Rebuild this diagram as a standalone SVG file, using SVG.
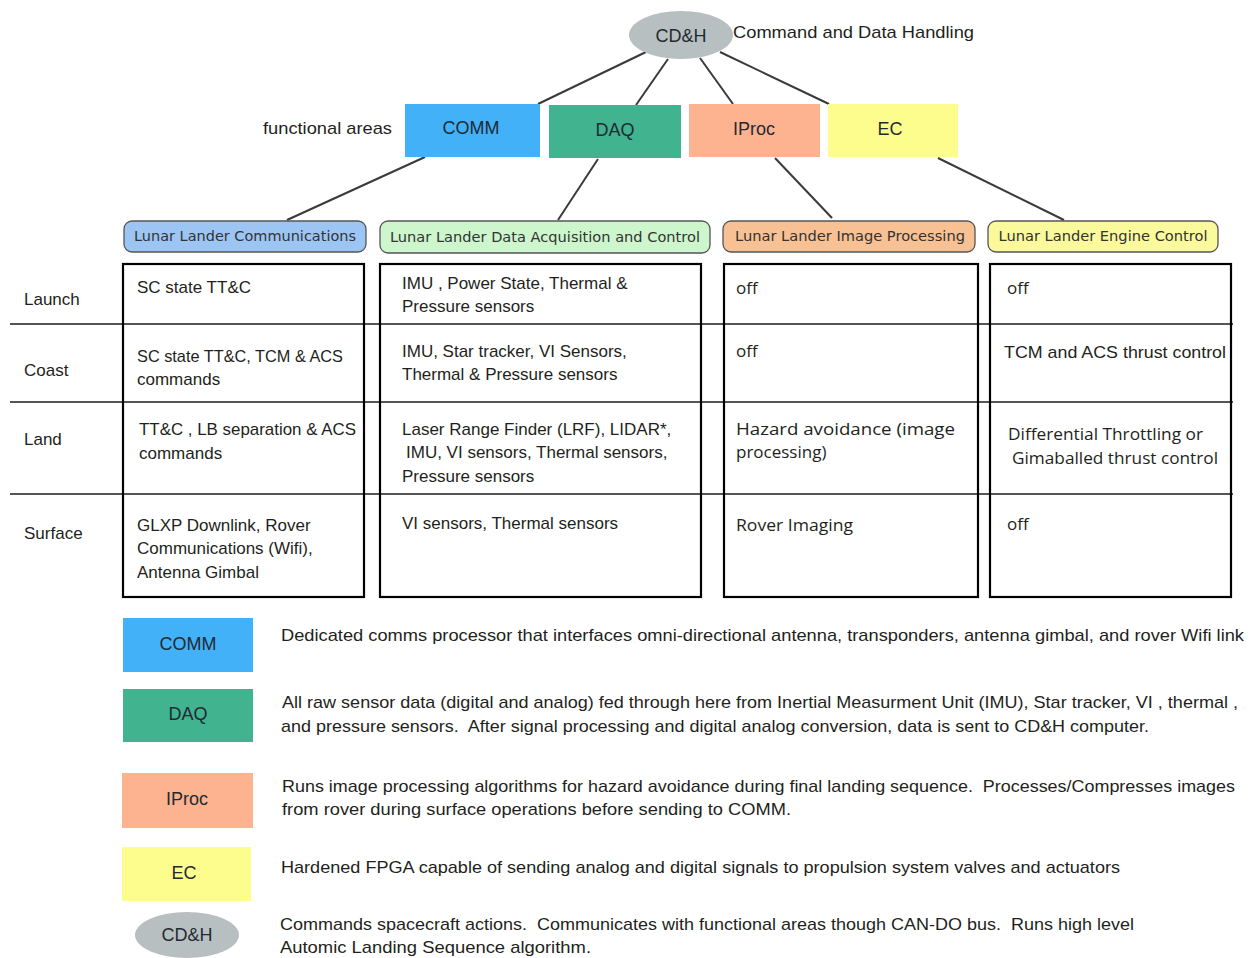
<svg xmlns="http://www.w3.org/2000/svg" width="1250" height="958" viewBox="0 0 1250 958">
<style>
.t{font-family:"Liberation Sans",Arial,sans-serif;font-size:17px;fill:#231f20;white-space:pre}
.c{font-family:"Liberation Sans",Arial,sans-serif;font-size:18px;fill:#1f2a33;text-anchor:middle}
.lbl{font-family:"DejaVu Sans",Verdana,sans-serif;font-size:14px;fill:#333;text-anchor:middle}
.o{font-family:"Open Sans","DejaVu Sans",sans-serif;font-size:17px;fill:#231f20}
.conn line{stroke:#3a3a3a;stroke-width:2}
.row{stroke:#555;stroke-width:2}
.col{fill:none;stroke:#000;stroke-width:2.2}
.lb{stroke:#555;stroke-width:1.3}
</style>
<rect width="1250" height="958" fill="#fff"/>

<g id="connectors" class="conn">
<line x1="646" y1="52" x2="538" y2="104"/>
<line x1="668" y1="59" x2="636" y2="105"/>
<line x1="700" y1="58" x2="733" y2="104"/>
<line x1="720" y1="52" x2="829" y2="104"/>
<line x1="425" y1="157" x2="287" y2="220"/>
<line x1="598" y1="159" x2="558" y2="220"/>
<line x1="775" y1="158" x2="832" y2="218"/>
<line x1="938" y1="158" x2="1064" y2="220"/>
</g>

<g id="cdh">
<ellipse cx="681" cy="35" rx="52" ry="24" fill="#b8bfc0"/>
<text class="c" x="681" y="42">CD&amp;H</text>
<text class="t" x="733" y="38" textLength="241" lengthAdjust="spacingAndGlyphs">Command and Data Handling</text>
</g>
<text class="t" x="263" y="134" textLength="129" lengthAdjust="spacingAndGlyphs">functional areas</text>

<g id="comm"><rect x="405" y="104" width="135" height="53" fill="#43b1f7"/><text class="c" x="471" y="134">COMM</text></g>
<g id="daq"><rect x="549" y="105" width="132" height="53" fill="#42b38f"/><text class="c" x="615" y="136">DAQ</text></g>
<g id="iproc"><rect x="689" y="104" width="131" height="53" fill="#fdb38f"/><text class="c" x="754" y="135">IProc</text></g>
<g id="ec"><rect x="828" y="104" width="130" height="53" fill="#fdfd8d"/><text class="c" x="890" y="135">EC</text></g>

<g id="llcomm"><rect class="lb" x="124" y="221" width="242" height="31" rx="8" fill="#9cc5f4"/><text class="lbl" x="245" y="241" textLength="222" lengthAdjust="spacingAndGlyphs">Lunar Lander Communications</text></g>
<g id="lldaq"><rect class="lb" x="380" y="221" width="330" height="32" rx="8" fill="#cdf6cd"/><text class="lbl" x="545" y="242" textLength="310" lengthAdjust="spacingAndGlyphs">Lunar Lander Data Acquisition and Control</text></g>
<g id="lliproc"><rect class="lb" x="723" y="221" width="252" height="31" rx="8" fill="#f8c193"/><text class="lbl" x="850" y="241" textLength="230" lengthAdjust="spacingAndGlyphs">Lunar Lander Image Processing</text></g>
<g id="llec"><rect class="lb" x="988" y="221" width="230" height="31" rx="8" fill="#fafa9c"/><text class="lbl" x="1103" y="241" textLength="209" lengthAdjust="spacingAndGlyphs">Lunar Lander Engine Control</text></g>

<g id="table">
<line class="row" x1="10" y1="324" x2="1233" y2="324"/>
<line class="row" x1="10" y1="402" x2="1233" y2="402"/>
<line class="row" x1="10" y1="494" x2="1233" y2="494"/>
<rect class="col" x="123" y="264" width="241" height="333"/>
<rect class="col" x="380" y="264" width="321" height="333"/>
<rect class="col" x="724" y="264" width="254" height="333"/>
<rect class="col" x="990" y="264" width="241" height="333"/>

<text class="t" x="24" y="305">Launch</text>
<text class="t" x="24" y="376">Coast</text>
<text class="t" x="24" y="445">Land</text>
<text class="t" x="24" y="539">Surface</text>

<text class="t" x="137" y="293">SC state TT&amp;C</text>
<text class="t" x="137" y="362" textLength="206" lengthAdjust="spacingAndGlyphs">SC state TT&amp;C, TCM &amp; ACS</text>
<text class="t" x="137" y="385">commands</text>
<text class="t" x="139" y="435" textLength="217" lengthAdjust="spacingAndGlyphs">TT&amp;C , LB separation &amp; ACS</text>
<text class="t" x="139" y="459">commands</text>
<text class="t" x="137" y="531">GLXP Downlink, Rover</text>
<text class="t" x="137" y="554">Communications (Wifi),</text>
<text class="t" x="137" y="578">Antenna Gimbal</text>

<text class="t" x="402" y="289">IMU , Power State, Thermal &amp;</text>
<text class="t" x="402" y="312">Pressure sensors</text>
<text class="t" x="402" y="357">IMU, Star tracker, VI Sensors,</text>
<text class="t" x="402" y="380">Thermal &amp; Pressure sensors</text>
<text class="t" x="402" y="435">Laser Range Finder (LRF), LIDAR*,</text>
<text class="t" x="406" y="458">IMU, VI sensors, Thermal sensors,</text>
<text class="t" x="402" y="482">Pressure sensors</text>
<text class="t" x="402" y="529">VI sensors, Thermal sensors</text>

<text class="o" x="736" y="294">off</text>
<text class="o" x="736" y="357">off</text>
<text class="o" x="736" y="435" textLength="219" lengthAdjust="spacingAndGlyphs">Hazard avoidance (image</text>
<text class="o" x="736" y="458">processing)</text>
<text class="o" x="736" y="531" textLength="117" lengthAdjust="spacingAndGlyphs">Rover Imaging</text>

<text class="o" x="1007" y="294">off</text>
<text class="t" x="1004" y="358" textLength="222" lengthAdjust="spacingAndGlyphs">TCM and ACS thrust control</text>
<text class="o" x="1008" y="440" textLength="195" lengthAdjust="spacingAndGlyphs">Differential Throttling or</text>
<text class="o" x="1012" y="464" textLength="206" lengthAdjust="spacingAndGlyphs">Gimaballed thrust control</text>
<text class="o" x="1007" y="530">off</text>
</g>

<g id="legend">
<g id="leg-comm"><rect x="123" y="618" width="130" height="54" fill="#43b1f7"/><text class="c" x="188" y="650">COMM</text></g>
<g id="leg-daq"><rect x="123" y="689" width="130" height="53" fill="#42b38f"/><text class="c" x="188" y="720">DAQ</text></g>
<g id="leg-iproc"><rect x="122" y="773" width="131" height="55" fill="#fdb38f"/><text class="c" x="187" y="805">IProc</text></g>
<g id="leg-ec"><rect x="122" y="847" width="129" height="54" fill="#fdfd8d"/><text class="c" x="184" y="879">EC</text></g>
<g id="leg-cdh"><ellipse cx="187" cy="935" rx="52" ry="23" fill="#b8bfc0"/><text class="c" x="187" y="941">CD&amp;H</text></g>

<text class="t" x="281" y="641" textLength="963" lengthAdjust="spacingAndGlyphs">Dedicated comms processor that interfaces omni-directional antenna, transponders, antenna gimbal, and rover Wifi link</text>
<text class="t" x="282" y="708" textLength="956" lengthAdjust="spacingAndGlyphs">All raw sensor data (digital and analog) fed through here from Inertial Measurment Unit (IMU), Star tracker, VI , thermal ,</text>
<text class="t" x="281" y="732" textLength="868" lengthAdjust="spacingAndGlyphs">and pressure sensors.  After signal processing and digital analog conversion, data is sent to CD&amp;H computer.</text>
<text class="t" x="282" y="792" textLength="953" lengthAdjust="spacingAndGlyphs">Runs image processing algorithms for hazard avoidance during final landing sequence.  Processes/Compresses images</text>
<text class="t" x="282" y="815" textLength="509" lengthAdjust="spacingAndGlyphs">from rover during surface operations before sending to COMM.</text>
<text class="t" x="281" y="873" textLength="839" lengthAdjust="spacingAndGlyphs">Hardened FPGA capable of sending analog and digital signals to propulsion system valves and actuators</text>
<text class="t" x="280" y="930" textLength="854" lengthAdjust="spacingAndGlyphs">Commands spacecraft actions.  Communicates with functional areas though CAN-DO bus.  Runs high level</text>
<text class="t" x="280" y="953" textLength="311" lengthAdjust="spacingAndGlyphs">Automic Landing Sequence algorithm.</text>
</g>
</svg>
